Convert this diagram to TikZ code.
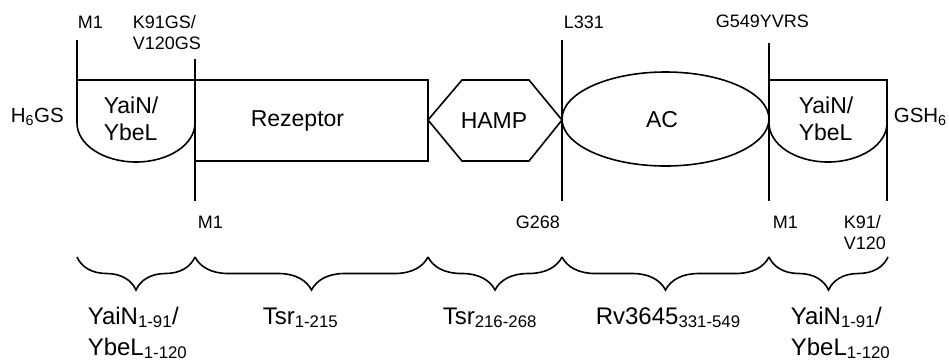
\documentclass[tikz,border=0pt]{standalone}
\usepackage{fontspec}
\setmainfont{Liberation Sans}
\usepackage{tikz}
\usetikzlibrary{decorations.pathreplacing}
\tikzset{
  site/.style={inner sep=0pt,align=left,font=\fontsize{18}{21}\selectfont},
  tag/.style={inner sep=0pt,font=\fontsize{20.5}{24}\selectfont},
  dom/.style={inner sep=0pt,align=left,font=\fontsize{23}{27}\selectfont},
  rng/.style={inner sep=0pt,align=left,font=\fontsize{24}{31}\selectfont},
  brc/.style={decorate,decoration={brace,mirror,amplitude=33pt}}
}

\begin{document}
\begin{tikzpicture}[x=1pt,y=1pt,line width=1.6pt]
\useasboundingbox (0,0) rectangle (949,-362);
\draw (77,-40)--(77,-123);
\draw (195,-59)--(195,-201);
\draw (562,-40)--(562,-201);
\draw (769,-43)--(769,-201);
\draw (887,-80)--(887,-201);
\draw (77,-80)--(195,-80)--(195,-123) arc[start angle=0,end angle=-180,x radius=59,y radius=39]--cycle;
\draw (195,-80) rectangle (428,-161);
\draw (428,-120)--(462,-80)--(529,-80)--(562,-120)--(529,-161)--(462,-161)--cycle;
\draw (665.5,-119) ellipse[x radius=103.5,y radius=47];
\draw (769,-80)--(887,-80)--(887,-123) arc[start angle=0,end angle=-180,x radius=59,y radius=39]--cycle;
\node[site,anchor=base west] (m1a) at (77,-28) {M1};
\node[site,anchor=base west] (k91a) at (132,-49) {K91GS/\\V120GS};
\node[site,anchor=base west] (l331) at (563,-28) {L331};
\node[site,anchor=base west] (g549) at (715,-27) {G549YVRS};
\node[tag,anchor=base west] (hgs) at (10,-122) {H\textsubscript{6}GS};
\node[tag,anchor=base west] (gsh) at (893,-122) {GSH\textsubscript{6}};
\node[site,anchor=base west] (m1b) at (197,-228) {M1};
\node[site,anchor=base west] (g268) at (515,-228) {G268};
\node[site,anchor=base west] (m1c) at (772,-228) {M1};
\node[site,anchor=base west] (k91b) at (843,-249) {K91/\\V120};
\node[dom,anchor=base west] (yaina) at (103,-140) {YaiN/\\YbeL};
\node[dom,anchor=base west] (rez) at (250,-126) {Rezeptor};
\node[dom,anchor=base] (hamp) at (494,-128) {HAMP};
\node[dom,anchor=base] (ac) at (662,-127) {AC};
\node[dom,anchor=base west] (yainb) at (798,-140) {YaiN/\\YbeL};
\coordinate (b1) at (77,-257);
\coordinate (b2) at (195,-257);
\coordinate (b3) at (428,-257);
\coordinate (b4) at (562,-257);
\coordinate (b5) at (769,-257);
\coordinate (b6) at (888,-257);
\draw[brc] (b1)--(b2);
\draw[brc] (b2)--(b3);
\draw[brc] (b3)--(b4);
\draw[brc] (b4)--(b5);
\draw[brc] (b5)--(b6);
\node[rng,anchor=base west] (ra) at (87,-355) {YaiN\textsubscript{1-91}/\\YbeL\textsubscript{1-120}};
\node[rng,anchor=base west] (rb) at (262,-324) {Tsr\textsubscript{1-215}};
\node[rng,anchor=base west] (rc) at (442,-324) {Tsr\textsubscript{216-268}};
\node[rng,anchor=base west] (rd) at (595,-324) {Rv3645\textsubscript{331-549}};
\node[rng,anchor=base west] (re) at (790,-355) {YaiN\textsubscript{1-91}/\\YbeL\textsubscript{1-120}};
\end{tikzpicture}
\end{document}
